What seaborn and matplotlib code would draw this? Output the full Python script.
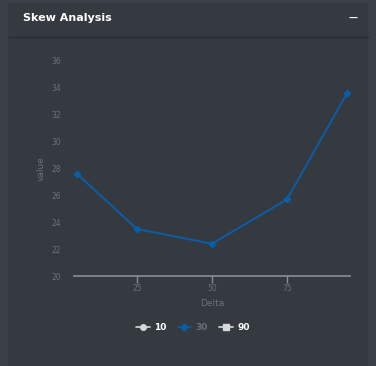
import pandas as pd
import numpy as np
import matplotlib.pyplot as plt
import seaborn as sns
from matplotlib.lines import Line2D
from matplotlib.patches import Rectangle

# Skew curve values (only the 30-day series is visible)
delta = [5, 25, 50, 75, 95]
value_30 = [27.6, 23.5, 22.4, 25.7, 33.6]
series_names = ['10', '30', '90']
y_ticks = [20, 22, 24, 26, 28, 30, 32, 34, 36]
x_ticks = [25, 50, 75]

df = pd.DataFrame({'Delta': delta, 'value': value_30})

sns.set_style("dark")
plt.rcParams['font.family'] = ['DejaVu Sans']

W, H = 376, 366
fig = plt.figure(figsize=(W / 100, H / 100), dpi=100)
fig.patch.set_facecolor('#3b4048')

# card panel and header
fig.patches.append(Rectangle((8 / W, 0), (W - 16) / W, 1 - 3 / H, transform=fig.transFigure,
                             facecolor='#353a41', edgecolor='none', zorder=-10))
fig.lines.append(Line2D([8 / W, (W - 8) / W], [1 - 37 / H, 1 - 37 / H], transform=fig.transFigure,
                        color='#272b31', lw=1, zorder=-5))
fig.text(23 / W, 1 - 18 / H, 'Skew Analysis', color='white', fontsize=8,
         fontweight='bold', va='center', ha='left')
fig.text(353 / W, 1 - 18 / H, '—', color='white', fontsize=6.5, fontweight='bold',
         va='center', ha='center')

ax = fig.add_axes([74 / W, (H - 276) / H, 276 / W, 215 / H])
ax.set_facecolor('none')

sns.lineplot(data=df, x='Delta', y='value', ax=ax, color='#0a5ea8', lw=1.4,
             marker='D', markersize=3.5, markeredgecolor='#0a5ea8')

ax.set_xlim(4, 96)
ax.set_ylim(20, 36)
ax.set_yticks(y_ticks)
ax.set_xticks(x_ticks)
ax.grid(False)
for s in ['top', 'right', 'left']:
    ax.spines[s].set_visible(False)
ax.spines['bottom'].set_color('#8a8f96')
ax.spines['bottom'].set_linewidth(1.2)
ax.tick_params(axis='x', colors='#8a8f96', length=5, width=1, labelsize=5.5,
               labelcolor='#6c7178', pad=1, direction='out', bottom=True)
ax.tick_params(axis='y', length=0, labelsize=5.5, labelcolor='#6c7178', pad=9, left=False)
ax.set_xlabel('Delta', color='#6c7178', fontsize=6.5, labelpad=4)
ax.set_ylabel('value', color='#6c7178', fontsize=6.5, labelpad=4)

handles = [
    Line2D([], [], color='#d8d8d8', marker='o', markersize=4, lw=1.2),
    Line2D([], [], color='#0a5ea8', marker='D', markersize=3.5, lw=1.2),
    Line2D([], [], color='#d8d8d8', marker='s', markersize=4, lw=1.2),
]
leg = fig.legend(handles, series_names, loc='center', bbox_to_anchor=(193 / W, 1 - 328 / H),
                 ncol=3, frameon=False, fontsize=6.5, handlelength=1.5, handletextpad=0.5,
                 columnspacing=1.2)
text_colors = ['white', '#6c7178', 'white']
for t, c in zip(leg.get_texts(), text_colors):
    t.set_color(c)
    t.set_fontweight('bold')

fig.savefig('out.png', dpi=100, facecolor=fig.get_facecolor())
